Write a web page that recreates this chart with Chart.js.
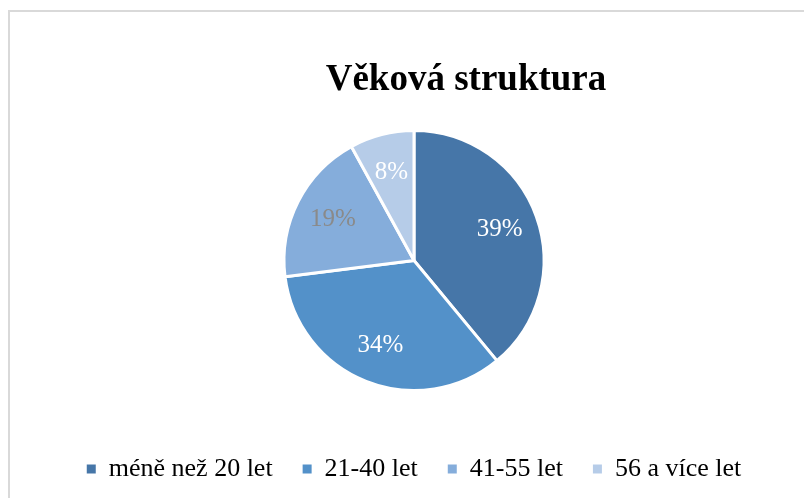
<!DOCTYPE html>
<html>
<head>
<meta charset="utf-8">
<script src="https://cdn.jsdelivr.net/npm/chart.js@4/dist/chart.umd.min.js"></script>
<style>
  html, body { margin: 0; padding: 0; background: #ffffff; overflow: hidden; }
  #wrap { position: relative; width: 804px; height: 498px; }
  #frame { position: absolute; left: 8px; top: 10px; width: 900px; height: 600px;
           border: 2px solid #d9d9d9; box-sizing: border-box; }
  #c { position: absolute; left: 0; top: 0; }
</style>
</head>
<body>
<div id="wrap">
  <div id="frame"></div>
  <canvas id="c" width="804" height="498"></canvas>
</div>
<script>
const chartTitle = "Věková struktura";
const categories = ["méně než 20 let", "21-40 let", "41-55 let", "56 a více let"];
const shares = [39, 34, 19, 8];
const sliceColors = ["#4676A8", "#5391C9", "#85ADDB", "#B6CCE8"];
const labelColors = ["#ffffff", "#ffffff", "#8a8a8a", "#ffffff"];

const serif = "'Liberation Serif', 'Times New Roman', 'DejaVu Serif', serif";

const titlePlugin = {
  id: 'offsetTitle',
  afterDraw(chart) {
    const ctx = chart.ctx;
    ctx.save();
    ctx.font = "bold 37px " + serif;
    ctx.fillStyle = "#000000";
    ctx.textAlign = "center";
    ctx.textBaseline = "alphabetic";
    ctx.fillText(chartTitle, 466, 90);
    ctx.restore();
  }
};

const pctLabels = {
  id: 'pctLabels',
  afterDatasetsDraw(chart) {
    const ctx = chart.ctx;
    const meta = chart.getDatasetMeta(0);
    const total = shares.reduce((a, b) => a + b, 0);
    ctx.save();
    ctx.font = "25px " + serif;
    ctx.textAlign = "center";
    ctx.textBaseline = "middle";
    meta.data.forEach((arc, i) => {
      const p = arc.getProps(['x', 'y', 'startAngle', 'endAngle', 'outerRadius'], true);
      const mid = (p.startAngle + p.endAngle) / 2;
      const r = p.outerRadius * 0.7;
      const x = p.x + Math.cos(mid) * r;
      const y = p.y + Math.sin(mid) * r;
      ctx.fillStyle = labelColors[i];
      ctx.fillText(Math.round(shares[i] / total * 100) + "%", x, y);
    });
    ctx.restore();
  }
};

new Chart(document.getElementById('c'), {
  type: 'pie',
  data: {
    labels: categories,
    datasets: [{
      data: shares,
      backgroundColor: sliceColors,
      borderColor: "#ffffff",
      borderWidth: 3
    }]
  },
  options: {
    responsive: false,
    animation: false,
    devicePixelRatio: 1,
    radius: 130,
    layout: { padding: { top: 95, bottom: 6, left: 24, right: 0 } },
    plugins: {
      title: { display: false },
      tooltip: { enabled: false },
      legend: {
        position: 'bottom',
        labels: {
          boxWidth: 9,
          boxHeight: 9,
          padding: 30,
          color: "#000000",
          font: { family: serif, size: 26 },
          generateLabels(chart) {
            const items = Chart.overrides.pie.plugins.legend.labels.generateLabels(chart);
            items.forEach(it => { it.lineWidth = 0; it.strokeStyle = 'rgba(0,0,0,0)'; });
            return items;
          }
        }
      }
    }
  },
  plugins: [pctLabels, titlePlugin]
});
</script>
</body>
</html>
